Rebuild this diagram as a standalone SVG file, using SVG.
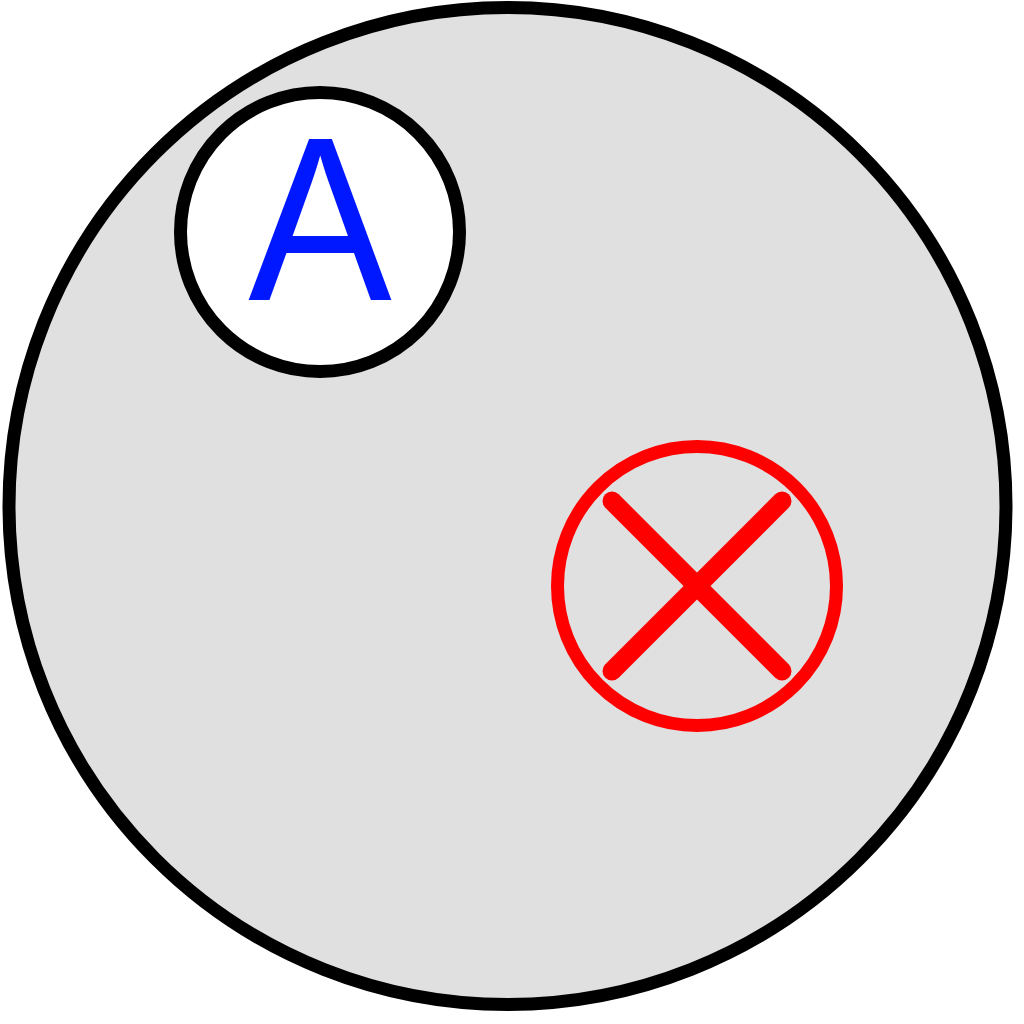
<svg xmlns="http://www.w3.org/2000/svg" width="1024" height="1024" viewBox="0 0 1024 1024">
  <style>
    .outline { stroke: #000000; stroke-width: 13; }
    .red { stroke: #FF0000; fill: none; }
    .label { font-family: "Liberation Sans", Arial, sans-serif; fill: #0018FF; }
  </style>
  <rect width="1024" height="1024" fill="#FFFFFF"/>
  <g id="outer">
    <circle cx="507.5" cy="506" r="498.5" fill="#E0E0E0" class="outline" stroke-width="14.5"/>
  </g>
  <g id="nodeA">
    <circle cx="320" cy="232" r="139.5" fill="#FFFFFF" class="outline"/>
    <text transform="translate(320,300) scale(0.92,1)" x="0" y="0" text-anchor="middle" font-size="234" class="label">A</text>
  </g>
  <g id="nodeX">
    <circle cx="697" cy="586" r="139.5" class="red" stroke-width="13"/>
    <line x1="612" y1="501" x2="782" y2="671" class="red" stroke-width="19" stroke-linecap="round"/>
    <line x1="782" y1="501" x2="612" y2="671" class="red" stroke-width="19" stroke-linecap="round"/>
  </g>
  <g id="connectors"/>
</svg>
